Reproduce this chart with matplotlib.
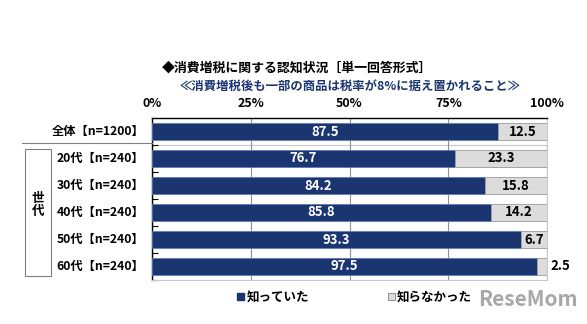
import matplotlib
matplotlib.use("Agg")
import matplotlib.pyplot as plt
from matplotlib.patches import Rectangle
from matplotlib.lines import Line2D

plt.rcParams['font.family'] = ['Noto Sans CJK JP', 'DejaVu Sans']

categories = ["全体【n=1200】", "20代【n=240】", "30代【n=240】", "40代【n=240】", "50代【n=240】", "60代【n=240】"]
knew = [87.5, 76.7, 84.2, 85.8, 93.3, 97.5]
didnt = [12.5, 23.3, 15.8, 14.2, 6.7, 2.5]
series_names = ["知っていた", "知らなかった"]
xticks = [0, 25, 50, 75, 100]
xtick_labels = ["0%", "25%", "50%", "75%", "100%"]

NAVY = "#1B3570"
GRAY = "#DCDCDC"

W, H = 587, 324
fig = plt.figure(figsize=(W/100, H/100), dpi=100)
ax = fig.add_axes([152/W, 1-280/H, (547-152)/W, (280-118)/H])

ypos = [0.5, 1.5, 2.5, 3.5, 4.5, 5.5]
ax.barh(ypos, knew, height=0.66, color=NAVY, edgecolor="#5B7DB8", linewidth=0.6, zorder=3)
ax.barh(ypos, didnt, left=knew, height=0.66, color=GRAY, edgecolor="#9A9A9A", linewidth=0.6, zorder=3)
ax.set_ylim(6, 0)
ax.set_xlim(0, 100)

for y, k, d in zip(ypos, knew, didnt):
    ax.text(k/2, y, f"{k:.1f}", ha="center", va="center", color="white", fontsize=9.5, fontweight="bold", zorder=4)
    if d >= 5:
        ax.text(k + d/2, y, f"{d:.1f}", ha="center", va="center", color="black", fontsize=9.5, fontweight="bold", zorder=4)
    else:
        ax.text(100.8, y, f"{d:.1f}", ha="left", va="center", color="black", fontsize=9.5, fontweight="bold", zorder=4, clip_on=False)

ax.set_xticks(xticks)
ax.set_xticklabels(xtick_labels, fontsize=9, fontweight="bold")
ax.xaxis.tick_top()
ax.tick_params(axis="x", length=0, pad=6)
ax.set_yticks([1, 2, 3, 4, 5, 6])
ax.set_yticklabels([])
ax.tick_params(axis="y", direction="in", length=4, width=0.8, color="black")
for y, c in zip(ypos, categories):
    ax.text(-2, y, c, ha="right", va="center", fontsize=8.8, fontweight="bold", color="black", clip_on=False)

ax.grid(axis="x", color="#909090", linewidth=0.8, zorder=0)
ax.axhline(1, color="#C8C8C8", linewidth=0.8, zorder=1)
ax.spines["top"].set_color("black")
ax.spines["top"].set_linewidth(1.0)
ax.spines["left"].set_color("black")
ax.spines["left"].set_linewidth(1.0)
ax.spines["right"].set_color("#C8C8C8")
ax.spines["bottom"].set_color("#C8C8C8")

# separator line under 全体
fig.add_artist(Line2D([22/W, 152/W], [1-143/H, 1-143/H], transform=fig.transFigure, color="#808080", linewidth=0.8))

# group box
fig.add_artist(Rectangle((25/W, 1-276/H), 26/W, 127/H, transform=fig.transFigure, fill=False, edgecolor="#808080", linewidth=0.8))
fig.text(38/W, 1-205/H, "世\n代", ha="center", va="center", fontsize=9, fontweight="bold", linespacing=1.0)

# titles
fig.text(297/W, 1-68/H, "◆消費増税に関する認知状況［単一回答形式］", ha="center", va="center", fontsize=9.3, fontweight="bold", color="black")
fig.text(350/W, 1-86/H, "≪消費増税後も一部の商品は税率が8%に据え置かれること≫", ha="center", va="center", fontsize=8.9, fontweight="bold", color=NAVY)

# legend
fig.add_artist(Rectangle((237/W, 1-300/H), 7/W, 7/H, transform=fig.transFigure, facecolor=NAVY, edgecolor=NAVY))
fig.text(247/W, 1-297/H, series_names[0], ha="left", va="center", fontsize=9, fontweight="bold")
fig.add_artist(Rectangle((388/W, 1-300/H), 7/W, 7/H, transform=fig.transFigure, facecolor=GRAY, edgecolor="#808080", linewidth=0.6))
fig.text(397/W, 1-297/H, series_names[1], ha="left", va="center", fontsize=9, fontweight="bold")

# watermark
fig.text(478/W, 1-300/H, "ReseMom", ha="left", va="center", fontsize=15, fontweight="bold", color="#A8A8A8")

fig.savefig("out.png", dpi=100)
